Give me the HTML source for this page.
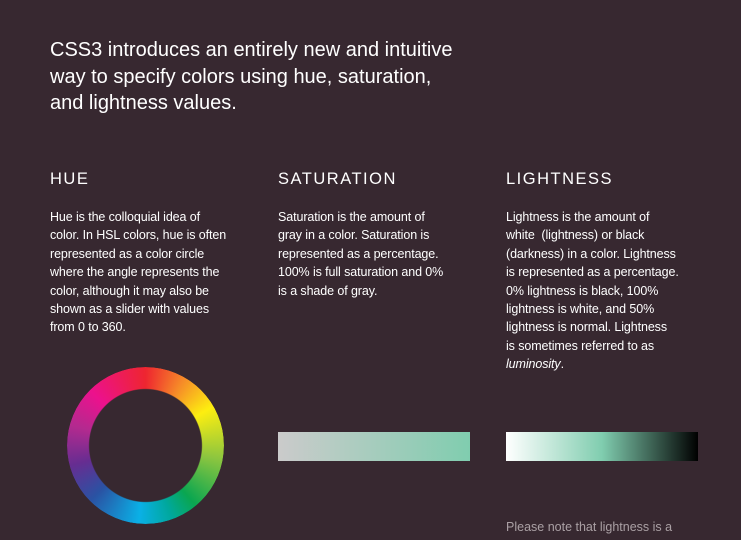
<!DOCTYPE html>
<html><head><meta charset="utf-8"><style>
body{margin:0;width:741px;height:540px;background:#372830;overflow:hidden;position:relative;font-family:"Liberation Sans",sans-serif;color:#fff}
.t{position:absolute;white-space:nowrap}
.title{left:50px;top:37px;font-size:20px;line-height:26.5px;letter-spacing:0}
.h{top:170px;font-size:16.5px;letter-spacing:1.5px}
.p{top:208px;font-size:12.5px;line-height:18.4px;letter-spacing:-0.1px}
.note{left:506px;top:520px;font-size:12.5px;color:#aaa0a4;letter-spacing:0}
</style></head><body>
<div class="t title">CSS3 introduces an entirely new and intuitive<br>way to specify colors using hue, saturation,<br>and lightness values.</div>
<div class="t h" style="left:50px">HUE</div>
<div class="t h" style="left:278px">SATURATION</div>
<div class="t h" style="left:506px">LIGHTNESS</div>
<div class="t p" style="left:50px">Hue is the colloquial idea of<br>color. In HSL colors, hue is often<br>represented as a color circle<br>where the angle represents the<br>color, although it may also be<br>shown as a slider with values<br>from 0 to 360.</div>
<div class="t p" style="left:278px">Saturation is the amount of<br>gray in a color. Saturation is<br>represented as a percentage.<br>100% is full saturation and 0%<br>is a shade of gray.</div>
<div class="t p" style="left:506px">Lightness is the amount of<br>white &nbsp;(lightness) or black<br>(darkness) in a color. Lightness<br>is represented as a percentage.<br>0% lightness is black, 100%<br>lightness is white, and 50%<br>lightness is normal. Lightness<br>is sometimes referred to as<br><i>luminosity</i>.</div>
<div style="position:absolute;left:67px;top:367px;width:157px;height:157px;border-radius:50%;background:conic-gradient(#ee2530 0deg,#f68b28 30deg,#fdee10 60deg,#8dc63f 100deg,#0aa650 140deg,#00a89d 160deg,#0ab0e6 185deg,#2a52a3 225deg,#662d91 255deg,#b32a8f 285deg,#ec118d 315deg,#ee2530 360deg);-webkit-mask:radial-gradient(circle,transparent 56px,#000 57px);mask:radial-gradient(circle,transparent 56px,#000 57px)"></div>
<div style="position:absolute;left:278px;top:432px;width:192px;height:29px;background:linear-gradient(to right,#cbcbcb,#80cdaf)"></div>
<div style="position:absolute;left:506px;top:432px;width:192px;height:29px;background:linear-gradient(to right,#fff,#80cdaf 50%,#000)"></div>
<div class="t note">Please note that lightness is a</div>
</body></html>
